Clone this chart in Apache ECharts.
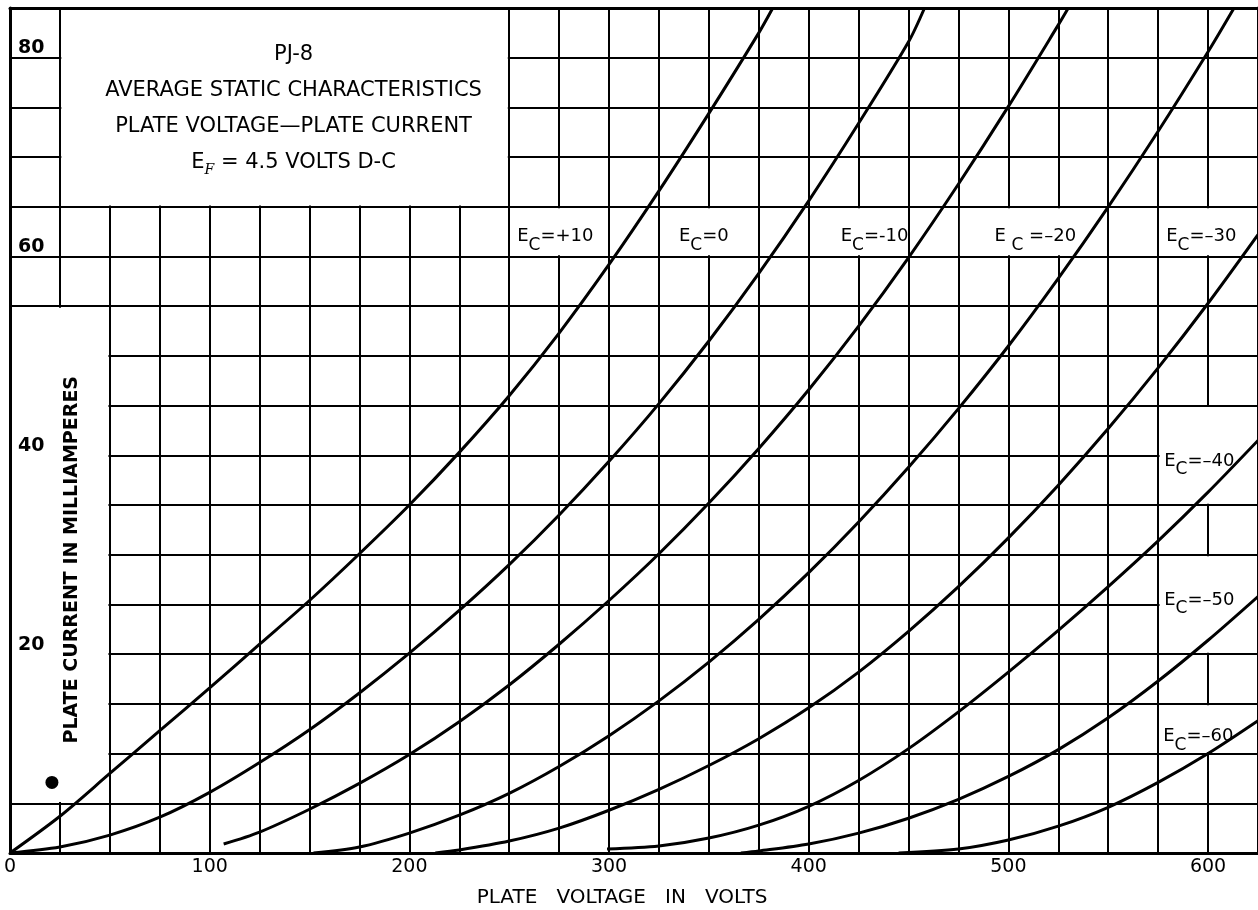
<!DOCTYPE html>
<html><head><meta charset="utf-8">
<script src="https://cdn.jsdelivr.net/npm/echarts/dist/echarts.min.js"></script>
<style>html,body{margin:0;padding:0;background:#fff}#c{width:1258px;height:910px}</style>
</head><body><div id="c"></div>
<script>
// ---- data (plate voltage V, plate current mA) ----
const xTickLabels = [0, 100, 200, 300, 400, 500, 600];
const yTickLabels = [20, 40, 60, 80];
const gridVoltages = ['+10', '0', '-10', '–20', '–30', '–40', '–50', '–60'];
const ecP10 = [[0,0],[25,3.7],[50,8.0],[75,12.3],[100,16.6],[125,21.0],[150,25.4],[175,30.1],[200,35.0],[225,40.3],[250,46.0],[275,52.3],[300,59.2],[325,66.6],[350,74.4],[375,82.5],[382,85]];
const ec0 = [[0,0],[25,0.6],[50,1.8],[75,3.6],[100,6.1],[125,9.1],[150,12.4],[175,16.1],[200,20.1],[225,24.4],[250,29.0],[275,34.0],[300,39.4],[325,45.2],[350,51.5],[375,58.3],[400,65.6],[425,73.4],[450,81.6],[458,85]];
const ecM10 = [[107,0.9],[125,2.1],[150,4.4],[175,7.0],[200,9.9],[225,13.2],[250,16.9],[275,21.0],[300,25.4],[325,30.1],[350,35.2],[375,40.7],[400,46.6],[425,53.0],[450,59.9],[475,67.3],[500,75.1],[525,83.3],[530,85]];
const ecM20 = [[152,0],[175,0.6],[200,2.0],[225,3.8],[250,6.0],[275,8.7],[300,11.8],[325,15.3],[350,19.2],[375,23.5],[400,28.2],[425,33.3],[450,38.8],[475,44.7],[500,51.0],[525,57.8],[550,65.0],[575,72.6],[600,80.6],[613,85]];
const ecM30 = [[213,0],[225,0.3],[250,1.2],[275,2.5],[300,4.3],[325,6.4],[350,8.8],[375,11.5],[400,14.6],[425,18.2],[450,22.3],[475,26.8],[500,31.7],[525,37.0],[550,42.7],[575,48.8],[600,55.3],[625,62.2]];
const ecM40 = [[299,0.4],[325,0.7],[350,1.5],[375,2.8],[400,4.7],[425,7.3],[450,10.5],[475,14.2],[500,18.2],[525,22.4],[550,26.8],[575,31.4],[600,36.3],[625,41.5]];
const ecM50 = [[366,0],[375,0.2],[400,0.9],[425,2.0],[450,3.5],[475,5.4],[500,7.7],[525,10.4],[550,13.6],[575,17.3],[600,21.4],[625,25.8]];
const ecM60 = [[445,0],[475,0.4],[500,1.3],[525,2.7],[550,4.6],[575,7.1],[600,10.0],[625,13.3]];
const curveData = [ecP10, ec0, ecM10, ecM20, ecM30, ecM40, ecM50, ecM60];
const markerPoint = [[21, 7.1]];

const titleLines = ['PJ-8', 'AVERAGE STATIC CHARACTERISTICS', 'PLATE VOLTAGE—PLATE CURRENT'];
const xName = 'PLATE   VOLTAGE   IN   VOLTS';
const yName = 'PLATE CURRENT IN MILLIAMPERES';

// ---- layout (data units) ----
const X_MAX = 625, Y_MAX = 85;
const maskBoxes = [
  [25,65,250,85],[0,5,50,55],
  [250,60,300,65],[325,60,375,65],[400,60,450,65],[475,60,550,65],[575,60,625,65],
  [575,35,625,45],[575,20,625,30],[575,10,625,15]
];
const labelAnchors = [[254,61.6],[335,61.6],[416,61.6],[493,61.6],[579,61.6],[578,39.0],[578,25.0],[577.5,11.3]];
const titleAnchor = [142, 74.15];
const yNameAnchor = [31, 29.5];

const FONT = 'DejaVu Sans';
const chart = echarts.init(document.getElementById('c'));

const insetV = 0.7, insetI = 0.14;
const maskData = maskBoxes.map(b => [
  {coord:[b[0] === 0 ? 0 : b[0] + insetV, b[1] + insetI]},
  {coord:[b[2] >= X_MAX ? X_MAX : b[2] - insetV, b[3] >= Y_MAX ? Y_MAX : b[3] - insetI]}
]);

const ecRich = {
  e: {fontSize: 18, fontFamily: FONT, color: '#000', lineHeight: 26, verticalAlign: 'top'},
  c: {fontSize: 17, fontFamily: FONT, color: '#000', lineHeight: 26, verticalAlign: 'bottom'}
};

const series = [];
series.push({
  type: 'line', xAxisIndex: 0, yAxisIndex: 0, data: [[0, 0]], symbol: 'none',
  lineStyle: {width: 0, opacity: 0}, silent: true, z: 1,
  markArea: {silent: true, z: 1, itemStyle: {color: '#fff', opacity: 1, borderWidth: 0}, data: maskData}
});
curveData.forEach((d, i) => series.push({
  type: 'line', name: 'Ec=' + gridVoltages[i], data: d, smooth: 0.3,
  symbol: 'none', showSymbol: false, z: 3, silent: true,
  lineStyle: {color: '#000', width: 3, opacity: 1}
}));
series.push({
  type: 'scatter', data: markerPoint, symbolSize: 13, itemStyle: {color: '#000', opacity: 1}, z: 4, silent: true
});
const txt = {type: 'scatter', symbolSize: 0, z: 5, silent: true, itemStyle: {opacity: 1}};
series.push(Object.assign({}, txt, {
  data: gridVoltages.map((g, i) => ({value: labelAnchors[i], name: g})),
  label: {
    show: true, position: 'right', distance: 0, color: '#000', opacity: 1,
    formatter: p => p.name === '–20' ? '{e|E }{c|C}{e| =–20}' : '{e|E}{c|C}{e|=' + p.name + '}',
    rich: ecRich
  }
}));
series.push(Object.assign({}, txt, {
  data: [{value: titleAnchor}],
  label: {
    show: true, position: 'inside', color: '#000', opacity: 1,
    formatter: titleLines.map(t => '{t|' + t + '}').join('\n') + '\n{t|E}{s|F}{t| = 4.5 VOLTS D-C}',
    rich: {
      t: {fontSize: 21, fontFamily: FONT, color: '#000', lineHeight: 36, verticalAlign: 'top'},
      s: {fontSize: 14, fontFamily: 'DejaVu Serif', fontStyle: 'italic', color: '#000', lineHeight: 36, verticalAlign: 'middle'}
    }
  }
}));
series.push(Object.assign({}, txt, {
  data: [{value: yNameAnchor}],
  label: {show: true, position: 'inside', rotate: 90, formatter: yName, opacity: 1,
    fontSize: 19, fontWeight: 'bold', fontFamily: FONT, color: '#000'}
}));

const backX = {type: 'value', min: 0, max: X_MAX, interval: 25, position: 'bottom',
  axisLine: {show: false}, axisTick: {show: false}, axisLabel: {show: false},
  splitLine: {show: true, lineStyle: {color: '#000', width: 2}}, z: 0};
const backY = {type: 'value', min: 0, max: Y_MAX, interval: 5, position: 'left',
  axisLine: {show: false}, axisTick: {show: false}, axisLabel: {show: false},
  splitLine: {show: true, lineStyle: {color: '#000', width: 2}}, z: 0};
const frontLine = {show: true, onZero: false, lineStyle: {color: '#000', width: 3}};

chart.setOption({
  animation: false,
  backgroundColor: '#fff',
  grid: {left: 10, right: 0, top: 8, bottom: 57, outerBoundsMode: 'none', containLabel: false},
  xAxis: [
    backX,
    {type: 'value', min: 0, max: X_MAX, interval: 100, position: 'bottom', z: 10,
      axisLine: frontLine, axisTick: {show: false}, splitLine: {show: false},
      axisLabel: {show: true, margin: 5, fontSize: 19, fontFamily: FONT, color: '#000',
        formatter: v => xTickLabels.includes(v) ? String(v) : ''},
      name: xName, nameLocation: 'middle', nameGap: 45,
      nameTextStyle: {fontSize: 20, fontFamily: FONT, color: '#000', verticalAlign: 'middle', padding: [0, 24, 0, 0]}},
    {type: 'value', min: 0, max: X_MAX, position: 'top', z: 10,
      axisLine: frontLine, axisTick: {show: false}, axisLabel: {show: false}, splitLine: {show: false}}
  ],
  yAxis: [
    backY,
    {type: 'value', min: 0, max: Y_MAX, interval: 20, position: 'left', z: 10,
      axisLine: frontLine, axisTick: {show: false}, splitLine: {show: false},
      axisLabel: {show: true, inside: true, margin: 8, verticalAlign: 'bottom', fontSize: 19,
        fontWeight: 'bold', fontFamily: FONT, color: '#000',
        formatter: v => yTickLabels.includes(v) ? String(v) : ''}},
    {type: 'value', min: 0, max: Y_MAX, position: 'right', z: 10,
      axisLine: frontLine, axisTick: {show: false}, axisLabel: {show: false}, splitLine: {show: false}}
  ],
  series: series
});
</script>
</body></html>
